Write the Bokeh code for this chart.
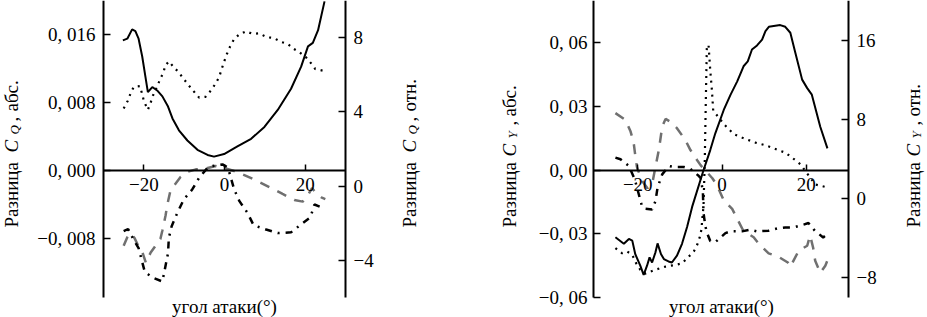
import math
from bokeh.plotting import figure
from bokeh.models import Range1d, LinearAxis, FixedTicker, Label
from bokeh.layouts import row
from bokeh.embed import file_html
from bokeh.resources import INLINE

# ---------------- data: panel 1 (C_Q) ----------------
cq_solid_alpha = [-25.2, -24.1, -22.9, -22.1, -21.3, -20.4, -19.6, -19.0, -17.9, -16.7, -15.4, -14.0, -12.9, -11.3,
                  -9.2, -6.7, -4.2, -2.6, -0.1, 3.2, 6.6, 9.9, 13.2, 16.5, 19.0, 20.7, 21.9, 23.2, 24.8]
cq_solid_abs = [0.0153, 0.0155, 0.0166, 0.0164, 0.0155, 0.0134, 0.0110, 0.0092, 0.0098, 0.0094, 0.0087, 0.0075,
                0.0061, 0.0047, 0.0035, 0.0024, 0.0018, 0.0016, 0.0019, 0.0028, 0.0037, 0.0051, 0.0071, 0.0096,
                0.0122, 0.0146, 0.0150, 0.0165, 0.0199]

cq_dot_alpha = [-25.0, -24.0, -23.3, -22.5, -21.0, -20.4, -20.0, -19.0, -18.3, -17.7, -16.9, -16.1, -15.2, -14.6,
                -13.8, -12.5, -11.3, -10.1, -8.8, -7.6, -6.3, -4.7, -3.4, -2.2, -1.3, -0.7, -0.1, 0.6, 1.4, 2.4,
                3.6, 5.3, 7.0, 8.6, 10.5, 12.2, 14.0, 15.7, 17.2, 18.6, 20.2, 21.5, 22.5, 24.4]
cq_dot_rel = [4.18, 4.59, 4.99, 5.35, 5.39, 4.96, 4.59, 4.11, 4.50, 4.90, 5.28, 5.68, 6.11, 6.52, 6.72, 6.39, 6.12,
              5.77, 5.41, 5.10, 4.77, 4.81, 5.14, 5.53, 5.89, 6.31, 6.70, 7.12, 7.53, 7.93, 8.16, 8.34, 8.20, 8.23,
              8.02, 7.98, 7.77, 7.66, 7.39, 7.21, 6.94, 6.61, 6.31, 6.22]

cq_dash_alpha = [-25.0, -24.1, -23.3, -22.3, -21.3, -20.4, -19.5, -18.3, -17.1, -15.9, -15.4, -14.6, -14.2, -13.4,
                 -12.5, -10.9, -9.2, -7.1, -4.7, -2.2, 0.3, 2.4, 3.6, 7.0, 9.5, 12.0, 14.4, 17.3, 19.4, 20.5, 21.7,
                 22.7, 24.0, 25.0]
cq_dash_abs = [-0.0089, -0.0079, -0.0074, -0.0080, -0.0090, -0.0096, -0.0109, -0.0097, -0.0089, -0.0081, -0.0071,
               -0.0053, -0.0041, -0.0024, -0.0018, -0.0008, -0.0002, 0.0001, 0.0002, 0.0005, 0.0002, -0.0001,
               -0.0003, -0.0010, -0.0016, -0.0022, -0.0028, -0.0035, -0.0037, -0.0031, -0.0021, -0.0027, -0.0032,
               -0.0034]

cq_dashdot_alpha = [-25.0, -23.9, -22.6, -21.3, -19.8, -18.8, -17.5, -15.4, -14.7, -14.4, -14.0, -13.8, -13.1,
                    -11.7, -10.1, -8.0, -6.3, -4.2, -3.0, -0.5, 0.6, 1.1, 2.4, 3.7, 5.7, 7.2, 10.3, 13.2, 16.5,
                    19.1, 21.3, 22.3, 24.4]
cq_dashdot_rel = [-2.43, -2.31, -2.86, -3.34, -4.59, -4.77, -4.96, -5.14, -4.38, -4.05, -3.61, -2.79, -2.16, -1.44,
                  -0.72, -0.18, 0.45, 0.99, 1.08, 1.17, 1.03, 0.81, -0.18, -0.81, -1.44, -2.10, -2.34, -2.53,
                  -2.49, -2.04, -1.68, -0.99, -1.17]

# ---------------- data: panel 2 (C_Y) ----------------
cy_solid_alpha = [-25.3, -23.3, -22.1, -21.3, -20.6, -19.4, -18.6, -17.8, -17.2, -16.6, -15.8, -15.3, -14.5, -13.8,
                  -12.7, -11.9, -10.7, -9.5, -8.3, -7.1, -4.4, -2.8, -1.6, 0.4, 2.0, 3.6, 5.1, 6.1, 7.1, 8.3, 9.5,
                  10.3, 11.1, 13.8, 15.0, 16.2, 17.4, 19.0, 20.2, 21.3, 23.3, 25.0]
cy_solid_abs = [-0.0316, -0.0347, -0.0324, -0.0332, -0.0395, -0.0450, -0.0493, -0.0450, -0.0411, -0.0435, -0.0387,
                -0.0345, -0.0395, -0.0419, -0.0430, -0.0435, -0.0403, -0.0347, -0.0268, -0.0173, 0.0, 0.0095,
                0.0174, 0.0284, 0.0355, 0.0419, 0.0490, 0.0513, 0.0569, 0.0588, 0.0616, 0.0656, 0.0676, 0.0684,
                0.0676, 0.0648, 0.0553, 0.0427, 0.0387, 0.0356, 0.0205, 0.0103]

cy_dot_alpha = [-25.3, -23.7, -22.5, -21.3, -20.4, -19.4, -18.2, -15.8, -13.4, -11.1, -9.5, -7.9, -6.7, -5.9, -5.3,
                -4.9, -4.6, -4.4, -4.1, -3.85, -3.6, -3.2, -2.8, -2.4, -2.1, -0.8, 0.4, 2.75, 4.7, 7.9, 9.9, 11.9,
                13.4, 15.0, 16.6, 18.6, 19.75, 22.1, 24.7]
cy_dot_rel = [-5.02, -5.53, -5.36, -5.69, -6.53, -7.20, -7.59, -7.19, -6.88, -6.71, -6.55, -5.87, -5.36, -4.68,
              -3.93, -3.15, -1.63, -0.78, 3.79, 9.89, 15.48, 15.48, 12.94, 10.91, 8.87, 8.19, 7.52, 6.51, 6.16,
              5.65, 5.42, 5.14, 4.88, 4.64, 4.13, 3.46, 2.78, 1.42, 1.15]

cy_dash_alpha = [-25.3, -22.9, -21.7, -21.0, -20.6, -20.2, -19.1, -17.7, -16.5, -15.8, -15.0, -14.2, -13.4, -12.3,
                 -10.7, -8.7, -7.5, -5.9, -5.1, -2.3, -1.2, 0.4, 2.4, 3.6, 5.0, 7.5, 8.9, 11.05, 13.4, 15.6, 16.2,
                 18.2, 20.2, 20.9, 21.6, 22.1, 23.3, 24.5, 25.3]
cy_dash_abs = [0.0269, 0.0237, 0.0182, 0.0134, 0.0071, 0.0016, -0.0047, -0.0085, -0.0057, 0.0016, 0.0095, 0.0205,
               0.0242, 0.0229, 0.0198, 0.0142, 0.0095, 0.0047, 0.0024, -0.0038, -0.0071, -0.0142, -0.0182, -0.0229,
               -0.0284, -0.0316, -0.0351, -0.0392, -0.0408, -0.0435, -0.0455, -0.0379, -0.0356, -0.0308, -0.0364,
               -0.0427, -0.0484, -0.0450, -0.0411]

cy_dashdot_alpha = [-25.3, -24.1, -22.1, -20.7, -19.0, -18.2, -16.6, -15.8, -15.3, -14.2, -12.6, -11.4, -9.1, -7.5,
                    -5.5, -5.1, -4.55, -4.4, -3.95, -3.55, -2.8, -1.6, 0.8, 2.0, 4.7, 6.7, 8.3, 11.05, 13.4, 15.0,
                    17.0, 19.35, 20.5, 22.0, 24.0, 25.3]
cy_dashdot_rel = [4.13, 3.96, 3.28, 1.93, -0.78, -1.04, -1.12, -0.27, 1.10, 2.44, 3.28, 3.18, 3.18, 2.98, 2.27,
                  2.09, 0.74, -1.46, -2.82, -3.50, -4.29, -4.41, -3.50, -3.32, -3.32, -3.15, -3.32, -3.25, -2.99,
                  -2.92, -2.92, -2.64, -2.48, -3.25, -3.93, -3.50]

# ---------------- ticks / axis limits ----------------
x_ticks = [-20, 0, 20]
x_tick_labels = ["\u221220", "0", "20"]
cq_x_lim = (-30, 30)
cq_abs_lim = (-0.015, 0.02)
cq_rel_lim = (-6, 10)
cq_abs_ticks = [-0.008, 0.0, 0.008, 0.016]
cq_abs_labels = ["\u22120, 008", "0, 000", "0, 008", "0, 016"]
cq_rel_ticks = [-4, 0, 4, 8]
cq_rel_labels = ["\u22124", "0", "4", "8"]
cy_x_lim = (-30.5, 30)
cy_abs_lim = (-0.06, 0.08)
cy_rel_lim = (-10, 20)
cy_abs_ticks = [-0.06, -0.03, 0.0, 0.03, 0.06]
cy_abs_labels = ["\u22120, 06", "\u22120, 03", "0, 00", "0, 03", "0, 06"]
cy_rel_ticks = [-8, 0, 8, 16]
cy_rel_labels = ["\u22128", "0", "8", "16"]

FONT = "Liberation Serif"
TICK_FS = "19px"
TITLE_FS = "19px"
SUB_FS = "13px"
H = 317          # canvas height
BOX_BOTTOM = 297  # bottom of the axes box (px from top)


def style_axis(ax, standoff, tick_in=7):
    ax.axis_line_color = "black"
    ax.axis_line_width = 2
    ax.major_tick_line_color = "black"
    ax.major_tick_line_width = 1.5
    ax.major_tick_in = tick_in
    ax.major_tick_out = 0
    ax.minor_tick_line_color = None
    ax.major_label_text_font = FONT
    ax.major_label_text_font_size = TICK_FS
    ax.major_label_text_color = "black"
    ax.major_label_standoff = standoff


def extend(lim, size_box, size_lo_extra, size_hi_extra):
    span = (lim[1] - lim[0]) / size_box
    return (lim[0] - size_lo_extra * span, lim[1] + size_hi_extra * span)


def make_panel(width, box_left, box_right, xlim, ylim, rlim, lt, ll, rt, rl, lstand, rstand):
    box_w = box_right - box_left
    xr = extend(xlim, box_w, box_left, width - box_right)
    yr = extend(ylim, BOX_BOTTOM, H - BOX_BOTTOM, 0)
    rr = extend(rlim, BOX_BOTTOM, H - BOX_BOTTOM, 0)
    p = figure(width=width, height=H, x_range=Range1d(*xr), y_range=Range1d(*yr),
               output_backend="svg", toolbar_location=None, x_axis_location=None, y_axis_location=None,
               min_border=0)
    p.outline_line_color = None
    p.grid.visible = False
    p.background_fill_color = "white"
    p.border_fill_color = "white"
    p.extra_y_ranges = {"rel": Range1d(*rr)}

    left = LinearAxis(fixed_location=xlim[0], bounds=ylim, ticker=FixedTicker(ticks=lt),
                      major_label_overrides=dict(zip(lt, ll)))
    style_axis(left, lstand)
    p.add_layout(left, "left")

    right = LinearAxis(y_range_name="rel", fixed_location=xlim[1], bounds=rlim, ticker=FixedTicker(ticks=rt),
                       major_label_overrides=dict(zip(rt, rl)))
    style_axis(right, rstand)
    p.add_layout(right, "right")

    xax = LinearAxis(fixed_location=0, bounds=xlim, ticker=FixedTicker(ticks=x_ticks),
                     major_label_overrides=dict(zip(x_ticks, x_tick_labels)))
    style_axis(xax, 8, tick_in=6)
    p.add_layout(xax, "below")
    return p


def add_lines(p, solid, dash, dot, dashdot):
    p.line(dash[0], dash[1], line_color="#707070", line_width=2.5, line_dash="10 9")
    p.line(dashdot[0], dashdot[1], y_range_name="rel", line_color="black", line_width=2.5,
           line_dash="7 6 2 6")
    p.line(dot[0], dot[1], y_range_name="rel", line_color="black", line_width=2.2, line_dash="2 5")
    p.line(solid[0], solid[1], line_color="black", line_width=2)


def vtitle(p, base_x, pieces):
    for text, y0, style, size, dx in pieces:
        p.add_layout(Label(x=base_x + dx, y=H - y0, x_units="screen", y_units="screen",
                           text=text, angle=math.pi / 2, text_font=FONT, text_font_size=size,
                           text_font_style=style, text_align="left", text_baseline="alphabetic",
                           text_color="black"))


def xtitle(p, cx):
    p.add_layout(Label(x=cx, y=H - 306, x_units="screen", y_units="screen", text="угол атаки(°)",
                       text_font=FONT, text_font_size=TITLE_FS, text_align="center",
                       text_baseline="alphabetic", text_color="black"))


def title_pieces(sub, unit, y_c, y_s, y_comma, y_unit):
    return [("Разница", 227, "normal", TITLE_FS, 0), ("C", y_c, "italic", TITLE_FS, 0),
            (sub, y_s, "italic", SUB_FS, 3), (",", y_comma, "normal", TITLE_FS, 0),
            (unit, y_unit, "normal", TITLE_FS, 0)]


# panel 1
W1 = 460
p1 = make_panel(W1, 103, 345, cq_x_lim, cq_abs_lim, cq_rel_lim, cq_abs_ticks, cq_abs_labels,
                cq_rel_ticks, cq_rel_labels, 8, 8)
add_lines(p1, (cq_solid_alpha, cq_solid_abs), (cq_dash_alpha, cq_dash_abs), (cq_dot_alpha, cq_dot_rel),
          (cq_dashdot_alpha, cq_dashdot_rel))
vtitle(p1, 11, title_pieces("Q", "абс.", 152, 134, 121, 111))
vtitle(p1, 409, title_pieces("Q", "отн.", 152, 134, 121, 111))
xtitle(p1, 224)

# panel 2
W2 = 467
p2 = make_panel(W2, 133, 388, cy_x_lim, cy_abs_lim, cy_rel_lim, cy_abs_ticks, cy_abs_labels,
                cy_rel_ticks, cy_rel_labels, 6, 8)
add_lines(p2, (cy_solid_alpha, cy_solid_abs), (cy_dash_alpha, cy_dash_abs), (cy_dot_alpha, cy_dot_rel),
          (cy_dashdot_alpha, cy_dashdot_rel))
vtitle(p2, 49, title_pieces("Y", "абс.", 156, 138, 125, 116))
vtitle(p2, 453, title_pieces("Y", "отн.", 156, 138, 125, 116))
xtitle(p2, 261)

layout = row(p1, p2)

with open("out.html", "w") as f:
    f.write(file_html(layout, INLINE))
